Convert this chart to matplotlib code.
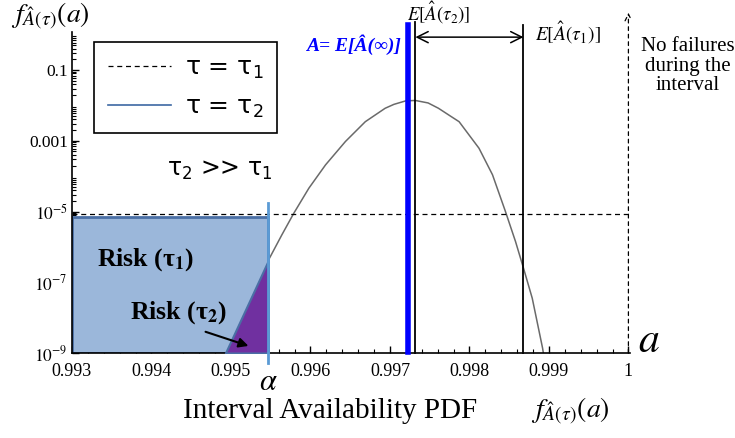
import numpy as np
import matplotlib
matplotlib.use("Agg")
import matplotlib.pyplot as plt
from matplotlib.patches import Rectangle
from matplotlib.lines import Line2D
from matplotlib.ticker import FixedLocator, FixedFormatter, MultipleLocator, LogLocator, NullFormatter

plt.rcParams['font.family'] = ['Liberation Serif', 'DejaVu Serif']
plt.rcParams['mathtext.fontset'] = 'stix'

# PDF of the interval availability for tau = tau2 (log10 of density)
curve_a = [0.99493, 0.99547, 0.99564, 0.99579, 0.99598, 0.99619, 0.99644,
           0.99669, 0.99694, 0.99705, 0.99720, 0.99732, 0.99748, 0.99761,
           0.99776, 0.99787, 0.99812, 0.99829, 0.99845, 0.99858, 0.99868,
           0.99879, 0.99892, 0.99893]
curve_log10 = [-9.00, -6.38, -5.66, -5.05, -4.34, -3.68, -3.02,
               -2.46, -2.08, -1.97, -1.87, -1.86, -1.93, -2.08,
               -2.30, -2.46, -3.21, -3.96, -4.98, -5.85, -6.60,
               -7.45, -8.86, -9.00]
curve_pdf = [10 ** v for v in curve_log10]

# tau = tau1 density level and the shaded risk region
tau1_level = 10 ** -5.06
risk_top = 10 ** -5.15
alpha = 0.99547
a_inf = 0.99723      # A = E[A(inf)]
e_tau2 = 0.99732     # E[A(tau2)]
e_tau1 = 0.99868     # E[A(tau1)]

x_ticks = [0.993, 0.994, 0.995, 0.996, 0.997, 0.998, 0.999, 1.0]
x_tick_labels = ["0.993", "0.994", "0.995", "0.996", "0.997", "0.998", "0.999", "1"]
y_ticks = [1e-9, 1e-7, 1e-5, 1e-3, 1e-1]
y_tick_labels = [r"$10^{-9}$", r"$10^{-7}$", r"$10^{-5}$", "0.001", "0.1"]

W, H = 735, 438
fig = plt.figure(figsize=(W / 100, H / 100), dpi=100)


def fx(px):
    return px / W


def fy(py):
    return 1 - py / H


ax = fig.add_axes([fx(72), fy(353), 558 / W, 321 / H])
ax.set_yscale('log')
ax.set_xlim(0.993, 1.00002)
ax.set_ylim(1e-9, 10 ** 0.076)

for s in ('top', 'right'):
    ax.spines[s].set_visible(False)
ax.spines['left'].set_linewidth(1.2)
ax.spines['bottom'].set_linewidth(1.2)

ax.xaxis.set_major_locator(FixedLocator(x_ticks))
ax.xaxis.set_major_formatter(FixedFormatter(x_tick_labels))
ax.xaxis.set_minor_locator(MultipleLocator(0.0002))
ax.yaxis.set_major_locator(FixedLocator(y_ticks))
ax.yaxis.set_major_formatter(FixedFormatter(y_tick_labels))
ax.yaxis.set_minor_locator(LogLocator(base=10, subs=np.arange(2, 10), numticks=20))
ax.yaxis.set_minor_formatter(NullFormatter())
ax.tick_params(which='major', direction='in', length=5, width=1, labelsize=13)
ax.tick_params(axis='x', which='major', pad=7)
ax.tick_params(axis='y', which='major', pad=3, labelsize=12.5)
ax.tick_params(which='minor', direction='in', length=3, width=0.8)

# tau2 density curve
ax.plot(curve_a, curve_pdf, color='#6a6a6a', lw=1.1, zorder=1,
        solid_joinstyle='round')

# tau1 level and the atom at a = 1
ax.plot([0.993, 1.0], [tau1_level, tau1_level], color='k', lw=0.9,
        dashes=(4, 3), zorder=1)
ax.annotate('', xy=(1.0, 1.06), xytext=(1.0, 0.0),
            xycoords=('data', 'axes fraction'), textcoords=('data', 'axes fraction'),
            arrowprops=dict(arrowstyle='->', lw=0.9, ls=(0, (3, 3)), color='k',
                            shrinkA=0, shrinkB=0, mutation_scale=12),
            annotation_clip=False)

# risk regions
ax.add_patch(Rectangle((0.993, 1e-9), alpha - 0.993, risk_top - 1e-9,
                       fc='#9bb7da', ec='#4a6fa5', lw=2, zorder=2))
sub_a = [a for a in curve_a if a <= alpha]
sub_pdf = curve_pdf[:len(sub_a)]
ax.fill_between(sub_a, 1e-9, sub_pdf, fc='#7030a0', ec='#4a6fa5', lw=1.5, zorder=3)

# vertical markers
ax.axvline(alpha, ymin=-0.03, ymax=0.468, color='#5b9bd5', lw=2, clip_on=False, zorder=4)
ax.axvline(a_inf, ymin=0.004, ymax=1.022, color='#0000ff', lw=4, clip_on=False, zorder=5)
ax.axvline(e_tau2, ymin=0.0, ymax=1.031, color='k', lw=1.3, clip_on=False, zorder=5)
ax.axvline(e_tau1, ymin=0.0, ymax=1.022, color='k', lw=1.3, clip_on=False, zorder=5)
ax.annotate('', xy=(e_tau1, 0.984), xytext=(e_tau2, 0.984),
            xycoords=('data', 'axes fraction'), textcoords=('data', 'axes fraction'),
            arrowprops=dict(arrowstyle='<->', lw=1.1, color='k',
                            shrinkA=0, shrinkB=0, mutation_scale=20),
            annotation_clip=False)

# arrow pointing into Risk(tau2)
ax.annotate('', xy=(0.99522, 10 ** -8.80), xytext=(0.99468, 10 ** -8.40),
            arrowprops=dict(arrowstyle='-|>', lw=1.5, color='k',
                            shrinkA=0, shrinkB=0, mutation_scale=14), zorder=6)

# legend
handles = [Line2D([], [], color='k', lw=0.9, dashes=(4, 3)),
           Line2D([], [], color='#3d68a3', lw=1.2)]
leg = ax.legend(handles, [r"τ = τ$_1$", r"τ = τ$_2$"],
                loc='upper left', bbox_to_anchor=(0.039, 0.97),
                prop={'family': 'DejaVu Sans', 'size': 18},
                frameon=True, fancybox=False, framealpha=1, edgecolor='k',
                handlelength=2.55, handletextpad=0.55, borderpad=0.55,
                labelspacing=0.55, borderaxespad=0)
leg.get_frame().set_linewidth(1.2)
for t in leg.get_texts():
    t.set_math_fontfamily('dejavusans')

# annotations
sans = ['DejaVu Sans']
fig.text(fx(220), fy(170), r"τ$_2$ >> τ$_1$", ha='center', va='center',
         family=sans, size=17, math_fontfamily='dejavusans')
fig.text(fx(97), fy(260), r"Risk (τ$_\mathbf{1}$)", ha='left', va='center',
         size=18.5, weight='bold')
fig.text(fx(130), fy(313), r"Risk (τ$_\mathbf{2}$)", ha='left', va='center',
         size=18.5, weight='bold')

fig.text(fx(50), fy(16), r"$f_{\hat{A}(\tau)}(a)$", ha='center', va='center', size=20)
fig.text(fx(439), fy(13), r"$E[\hat{A}(\tau_2)]$", ha='center', va='center', size=13.5)
fig.text(fx(568), fy(33), r"$E[\hat{A}(\tau_1)]$", ha='center', va='center', size=14)
fig.text(fx(401), fy(45), "A= E[Â(∞)]", ha='right', va='center',
         size=14, color='#0000ff', style='italic', weight='bold')
fig.text(fx(688), fy(66), "No failures\nduring the\ninterval", ha='center', va='center',
         size=15, linespacing=1.05)

fig.text(fx(268), fy(382), r"$\alpha$", ha='center', va='center', size=22)
fig.text(fx(649), fy(342), r"$a$", ha='center', va='center', size=30)
fig.text(fx(330), fy(411), "Interval Availability PDF", ha='center', va='center', size=21)
fig.text(fx(570), fy(411), r"$f_{\hat{A}(\tau)}(a)$", ha='center', va='center', size=20)

fig.savefig("out.png", dpi=100)
